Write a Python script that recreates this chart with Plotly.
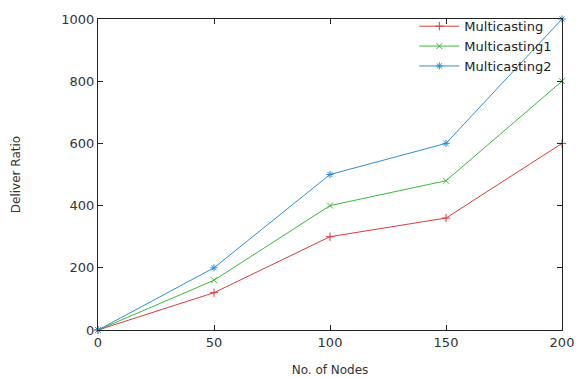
import plotly.graph_objects as go

nodes = [0, 50, 100, 150, 200]
multicasting = [0, 120, 300, 360, 600]
multicasting1 = [0, 160, 400, 480, 800]
multicasting2 = [0, 200, 500, 600, 1000]

series = [
    ("Multicasting", multicasting, "#d83c3c", "cross-thin"),
    ("Multicasting1", multicasting1, "#3cb83c", "x-thin"),
    ("Multicasting2", multicasting2, "#2f8fd0", "asterisk"),
]

fig = go.Figure()
for name, vals, color, sym in series:
    fig.add_trace(go.Scatter(
        x=nodes, y=vals, name=name, mode="lines+markers",
        line=dict(color=color, width=1),
        marker=dict(symbol=sym, size=6, color=color, line=dict(color=color, width=1)),
        cliponaxis=False,
    ))

font = dict(family="DejaVu Sans", size=13, color="#333333")
axis_common = dict(
    showgrid=False, zeroline=False, showline=True, linecolor="#222222", linewidth=1,
    mirror="allticks", ticks="inside", ticklen=5, tickcolor="#222222",
    tickfont=font, automargin=False,
)
fig.update_xaxes(range=[0, 200], tickvals=[0, 50, 100, 150, 200],
                 title=dict(text="No. of Nodes", font=dict(family="DejaVu Sans", size=12, color="#333333"), standoff=17),
                 **axis_common)
fig.update_yaxes(range=[0, 1000], tickvals=[0, 200, 400, 600, 800, 1000],
                 title=dict(text="Deliver Ratio", font=dict(family="DejaVu Sans", size=12, color="#333333"), standoff=38),
                 **axis_common)

fig.update_layout(
    width=576, height=378,
    margin=dict(l=98, r=14, t=19, b=48, autoexpand=False),
    paper_bgcolor="white", plot_bgcolor="white",
    showlegend=True,
    legend=dict(x=0.99, y=1.025, xanchor="right", yanchor="top",
                bgcolor="rgba(0,0,0,0)", font=dict(family="DejaVu Sans", size=13, color="#222222"),
                tracegroupgap=0, itemwidth=40),
)

fig.write_html("out.html", config={"displayModeBar": False},
               post_script="document.body.style.margin='0';document.body.style.overflow='hidden';")
